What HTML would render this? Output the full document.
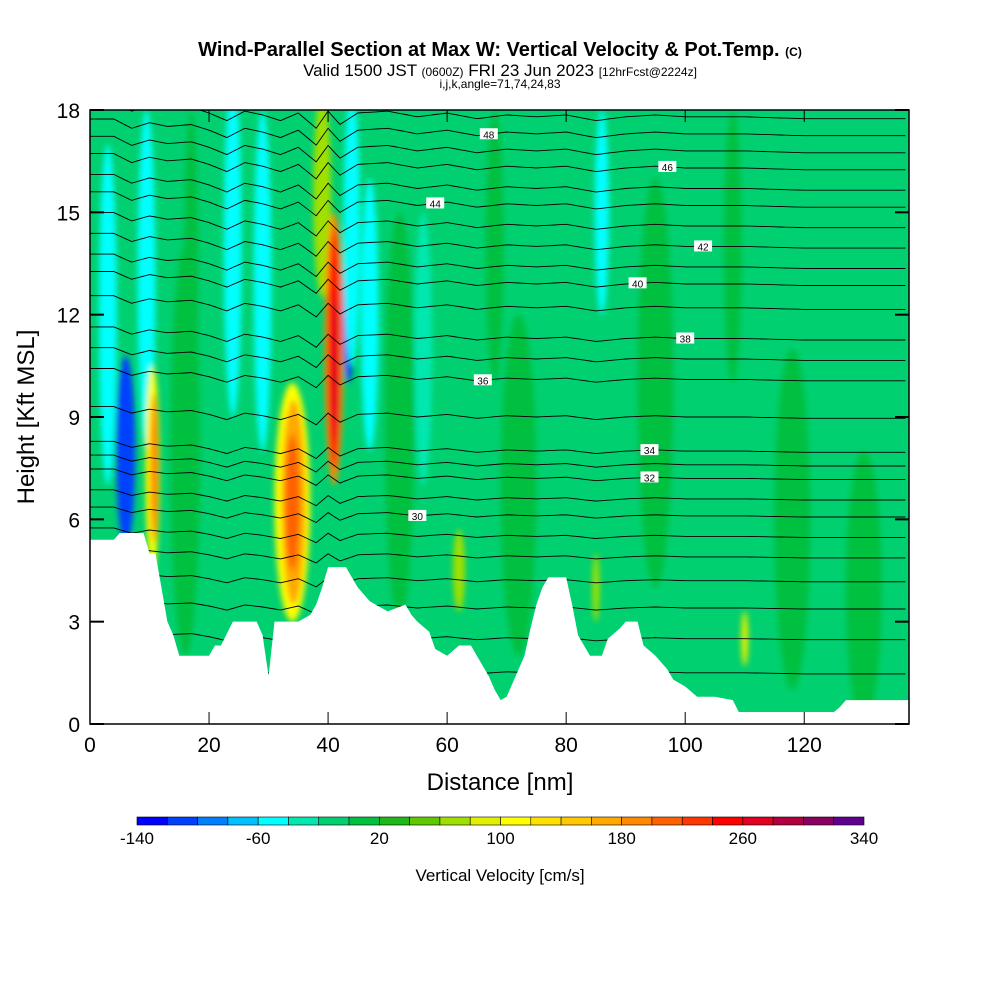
<!DOCTYPE html>
<html><head><meta charset="utf-8"><style>
body{margin:0;background:#fff;font-family:"Liberation Sans",sans-serif}
svg text{font-family:"Liberation Sans",sans-serif}
</style></head><body>
<svg id="chart" width="1000" height="1000" viewBox="0 0 1000 1000">
<rect width="1000" height="1000" fill="#fff"/>
<text x="500" y="56" text-anchor="middle" font-size="20" font-weight="bold">Wind-Parallel Section at Max W: Vertical Velocity &amp; Pot.Temp. <tspan font-size="12">(C)</tspan></text>
<text x="500" y="76" text-anchor="middle" font-size="17">Valid 1500 JST <tspan font-size="12">(0600Z)</tspan> FRI 23 Jun 2023 <tspan font-size="12">[12hrFcst@2224z]</tspan></text>
<text x="500" y="88" text-anchor="middle" font-size="12">i,j,k,angle=71,74,24,83</text>
<defs><clipPath id="pc"><rect x="90" y="110" width="819" height="614"/></clipPath>
<filter id="bl"><feGaussianBlur stdDeviation="3"/></filter></defs>
<g clip-path="url(#pc)">
<rect x="90" y="110" width="819" height="614" fill="#00d070"/>
<g id="field" filter="url(#bl)"></g>
<g id="contours"></g>
<polygon id="terrain" fill="#fff"/>
</g>
<g id="axes"></g>
<rect x="90" y="110" width="819" height="614" fill="none" stroke="#000" stroke-width="1.5"/>
<text x="500" y="790" text-anchor="middle" font-size="24">Distance [nm]</text>
<text transform="translate(34,417) rotate(-90)" text-anchor="middle" font-size="24">Height [Kft MSL]</text>
<g id="colorbar"></g>
<text x="500" y="881" text-anchor="middle" font-size="17">Vertical Velocity [cm/s]</text>
</svg>
<script>
const xTicks=[0,20,40,60,80,100,120];
const yTicks=[0,3,6,9,12,15,18];
const cbColors=["#0000ff","#0040ff","#0080ff","#00c0ff","#00ffff","#00e8b0","#00d070","#00c040","#20b818","#60c800","#a0e000","#e0f000","#ffff00","#ffe000","#ffc800","#ffa800","#ff8800","#ff6000","#ff3800","#ff0000","#e00020","#b00040","#880060","#600090"];
const cbLabels=[-140,-60,20,100,180,260,340];
const terrX=[0,4,5,9,10,11,12,13,14,15,20,21,22,24,25,28,29,30,31,35,37,38,39,40,43,44,45,47,48,50,53,54,55,57,58,60,62,64,65,67,68,69,70,71,73,74,75,76,77,80,81,82,83,84,86,87,89,90,92,93,95,97,98,100,102,105,108,109,125,126,127,137.6];
const terrH=[5.4,5.4,5.6,5.6,5.0,5.0,4.0,3.0,2.6,2.0,2.0,2.3,2.3,3.0,3.0,3.0,2.6,1.4,3.0,3.0,3.2,3.5,4.0,4.6,4.6,4.3,4.0,3.6,3.5,3.3,3.5,3.2,3.0,2.7,2.2,2.0,2.3,2.3,2.0,1.4,1.0,0.7,0.8,1.2,2.0,2.8,3.5,4.0,4.3,4.3,3.5,2.6,2.3,2.0,2.0,2.5,2.8,3.0,3.0,2.3,2.0,1.6,1.3,1.1,0.8,0.8,0.7,0.35,0.35,0.5,0.7,0.7];
const wX=[3,6,9.5,10.5,10.8,17,24,29,34,34.2,34,39,41,41,41.2,43.5,44,47,56,62,86,85,110,16,52,72,95,118,130,68,108];
const wY=[12,8,13,7.5,7.5,13,14,13,6.5,6.5,6.5,15.5,11,11,10.5,12.5,14.5,12,11,4.5,15,4,2.5,8,9,7,10,6,4,14,14];
const wW=[1.5,1.6,1.5,1.2,0.7,1.2,1.5,1.5,3.0,2.0,1.2,1.5,1.6,1.0,0.6,1.0,1.4,1.5,1.5,1,1.2,0.6,0.6,2.5,2.5,3,3,3,3,1.5,1.5];
const wH=[5,2.8,5,3,2.2,5,5,5,3.5,3,2,3,4,3.5,2.2,2.5,4,4,4,1.2,3,1,0.8,6,6,5,6,5,4,4,4];
const wV=[-50,-110,-50,110,190,10,-50,-50,110,170,210,70,190,250,270,-110,-50,-50,-40,60,-50,70,90,10,10,10,10,10,10,10,10];
const thetaLev=[24,25,26,27,28,29,30,31,32,33,34,35,36,37,38,39,40,41,42,43,44,45,46,47,48,49];
const thetaH=[1.5,2.5,3.4,4.2,4.9,5.5,6.1,6.6,7.2,7.6,8.0,9.0,10.1,10.7,11.3,12.2,12.9,13.4,14.0,14.6,15.2,15.7,16.3,16.8,17.3,17.8];
const dispX=[0,4,7,10,13,17,20,23,26,29,32,35,38,40,42,45,50,55,60,65,70,75,80,85,90,95,100,110,120,137.6];
const dispD=[0.4,0.4,0.15,0.3,0.2,0.25,0.1,-0.1,0.15,0.05,-0.1,0.1,-0.3,0.15,-0.2,0.1,0.15,0,0.1,-0.05,0.05,0,0.05,-0.1,0,0.05,0,0,-0.05,-0.05];
const labelLev=[30,32,34,36,38,40,42,44,46,48];
const labelX=[55,94,94,66,100,92,103,58,97,67];

const sx=v=>90+v*(819/137.6), sy=v=>724-v*(614/18);
const NS="http://www.w3.org/2000/svg";
function mk(t,a,p){const e=document.createElementNS(NS,t);for(const k in a)e.setAttribute(k,a[k]);(p||document.getElementById('chart')).appendChild(e);return e;}
function col(v){let i=Math.floor((v+140)/20);i=Math.max(0,Math.min(23,i));return cbColors[i];}
const fg=document.getElementById('field');
wX.forEach((x,i)=>{const e=mk('ellipse',{cx:sx(x),cy:sy(wY[i]),rx:wW[i]*819/137.6,ry:wH[i]*614/18,fill:col(wV[i])},fg);

});
const cg=document.getElementById('contours');
function disp(x){for(let k=0;k<dispX.length-1;k++){if(x<=dispX[k+1]){const t=(x-dispX[k])/(dispX[k+1]-dispX[k]);return dispD[k]+t*(dispD[k+1]-dispD[k]);}}return dispD[dispD.length-1];}
function lh(l){for(let k=0;k<thetaLev.length-1;k++){if(l<=thetaLev[k+1]){const t=(l-thetaLev[k])/(thetaLev[k+1]-thetaLev[k]);return thetaH[k]+t*(thetaH[k+1]-thetaH[k]);}}return thetaH[thetaH.length-1];}
function hAt(h0,x){return h0+disp(x)*(0.6+Math.max(0,h0-5)/25);}
thetaLev.forEach(l=>{const h0=lh(l);let d='';
 for(let x=0;x<=137.6;x+=1){const h=hAt(h0,x);d+=(x?'L':'M')+sx(x).toFixed(1)+','+sy(h).toFixed(1);}
 const p=mk('path',{d:d,fill:'none',stroke:'#000','stroke-width':0.9},cg);
 
 });
labelLev.forEach((l,i)=>{const x=labelX[i],h=hAt(lh(l),x);
 const r=mk('rect',{x:sx(x)-9,y:sy(h)-6,width:18,height:11,fill:'#fff'},cg);
 
 
 const t=mk('text',{x:sx(x),y:sy(h)+4,'text-anchor':'middle','font-size':10},cg);t.textContent=l;
 
 });
let pts=terrX.map((x,i)=>sx(x)+','+sy(terrH[i])).join(' ');
pts+=' '+sx(137.6)+',724 90,724';document.getElementById('terrain').setAttribute('points',pts);
const ag=document.getElementById('axes');
xTicks.forEach(v=>{const t=mk('text',{x:sx(v),y:752,'text-anchor':'middle','font-size':21},ag);t.textContent=v;
 
 
 mk('line',{x1:sx(v),x2:sx(v),y1:724,y2:712,stroke:'#000'},ag);mk('line',{x1:sx(v),x2:sx(v),y1:110,y2:122,stroke:'#000'},ag);});
yTicks.forEach(v=>{const t=mk('text',{x:80,y:sy(v)+8,'text-anchor':'end','font-size':21},ag);t.textContent=v;
 
 
 mk('line',{x1:90,x2:104,y1:sy(v),y2:sy(v),stroke:'#000','stroke-width':2},ag);mk('line',{x1:909,x2:895,y1:sy(v),y2:sy(v),stroke:'#000','stroke-width':2},ag);});
const cb=document.getElementById('colorbar');const bw=727/24;
cbColors.forEach((c,i)=>{const r=mk('rect',{x:137+i*bw,y:817,width:bw,height:8,fill:c,stroke:'#000','stroke-width':0.6},cb);
 
 });
cbLabels.forEach(v=>{const t=mk('text',{x:137+(v+140)/480*727,y:844,'text-anchor':'middle','font-size':17},cb);t.textContent=v;
 
 });
</script>
</body></html>
